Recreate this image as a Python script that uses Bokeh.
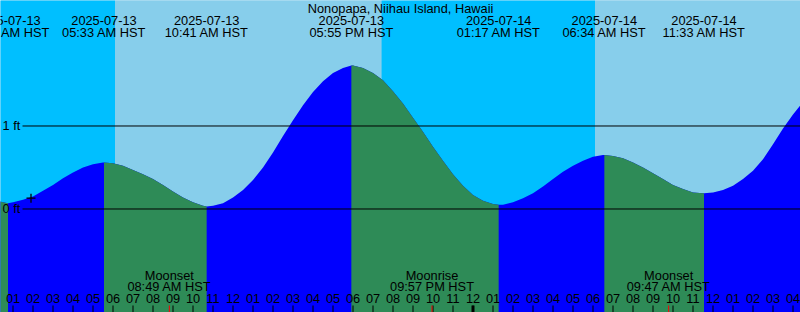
from bokeh.plotting import figure
from bokeh.models import Range1d
from bokeh.core.properties import value
from bokeh.embed import file_html
from bokeh.resources import INLINE

# ---------------- data (hours since 2025-07-13 00:00 HST) ----------------
title_text = "Nonopapa, Niihau Island, Hawaii"

tide_hours = [0.0, 0.5, 1.0, 1.5, 2.0, 2.5, 3.0, 3.5, 4.0, 4.5,
              5.0, 5.5, 6.0, 6.5, 7.0, 7.5, 8.0, 8.5, 9.0, 9.5,
              10.0, 10.5, 11.0, 11.5, 12.0, 12.5, 13.0, 13.5, 14.0, 14.5,
              15.0, 15.5, 16.0, 16.5, 17.0, 17.5, 18.0, 18.5, 19.0, 19.5,
              20.0, 20.5, 21.0, 21.5, 22.0, 22.5, 23.0, 23.5, 24.0, 24.5,
              25.0, 25.5, 26.0, 26.5, 27.0, 27.5, 28.0, 28.5, 29.0, 29.5,
              30.0, 30.5, 31.0, 31.5, 32.0, 32.5, 33.0, 33.5, 34.0, 34.5,
              35.0, 35.5, 36.0, 36.5, 37.0, 37.5, 38.0, 38.5, 39.0, 39.5,
              40.0, 40.5, 41.0]
tide_ft = [0.11, 0.08, 0.08, 0.11, 0.15, 0.22, 0.29, 0.37, 0.44, 0.50,
           0.54, 0.56, 0.55, 0.52, 0.47, 0.42, 0.36, 0.29, 0.21, 0.14,
           0.08, 0.04, 0.04, 0.07, 0.14, 0.23, 0.35, 0.50, 0.68, 0.88,
           1.07, 1.25, 1.41, 1.54, 1.64, 1.70, 1.73, 1.70, 1.64, 1.55,
           1.42, 1.27, 1.10, 0.93, 0.75, 0.58, 0.42, 0.28, 0.17, 0.10,
           0.06, 0.05, 0.08, 0.13, 0.19, 0.27, 0.36, 0.45, 0.52, 0.58,
           0.63, 0.65, 0.64, 0.61, 0.56, 0.50, 0.43, 0.36, 0.29, 0.24,
           0.20, 0.19, 0.20, 0.23, 0.28, 0.36, 0.46, 0.60, 0.78, 0.97,
           1.14, 1.29, 1.41]

extreme_hours = [0.75, 5.55, 10.683, 17.917, 25.283, 30.567, 35.55]
extreme_ft = [0.07, 0.56, 0.03, 1.73, 0.05, 0.65, 0.19]
extreme_dates = ["2025-07-13", "2025-07-13", "2025-07-13", "2025-07-13",
                 "2025-07-14", "2025-07-14", "2025-07-14"]
extreme_times = ["12:45 AM HST", "05:33 AM HST", "10:41 AM HST", "05:55 PM HST",
                 "01:17 AM HST", "06:34 AM HST", "11:33 AM HST"]

sky_left = [0.0, 6.1, 19.43, 30.1]
sky_right = [6.1, 19.43, 30.1, 41.0]
sky_colors = ["#00BFFF", "#87CEEB", "#00BFFF", "#87CEEB"]

moon_hours = [8.817, 21.95, 33.783]
moon_events = ["Moonset", "Moonrise", "Moonset"]
moon_times = ["08:49 AM HST", "09:57 PM HST", "09:47 AM HST"]

tick_hours = [1, 2, 3, 4, 5, 6, 7, 8, 9, 10, 11, 12, 13, 14, 15, 16, 17, 18, 19, 20,
              21, 22, 23, 24, 25, 26, 27, 28, 29, 30, 31, 32, 33, 34, 35, 36, 37, 38, 39, 40]
tick_labels = ["01", "02", "03", "04", "05", "06", "07", "08", "09", "10", "11", "12",
               "01", "02", "03", "04", "05", "06", "07", "08", "09", "10", "11", "12",
               "01", "02", "03", "04", "05", "06", "07", "08", "09", "10", "11", "12",
               "01", "02", "03", "04"]
midnight_hours = [24]

now_hour = [1.9]
now_ft = [0.13]

ref_levels = [0, 1]
ref_labels = ["0 ft", "1 ft"]

# ---------------- styling ----------------
BLUE = "#0000FF"
GREEN = "#2E8B57"
FONT = value("Liberation Sans")
FSIZE = value("12.8px")

p = figure(width=800, height=312, output_backend="svg", toolbar_location=None,
           x_range=Range1d(0.375, 40.375), y_range=Range1d(-1.2470, 2.5120),
           x_axis_location=None, y_axis_location=None, min_border=0)
p.extra_y_ranges = {"px": Range1d(312, 0)}
p.extra_x_ranges = {"px": Range1d(0, 800)}
p.grid.visible = False
p.outline_line_color = None
p.background_fill_color = "#87CEEB"
p.border_fill_color = "white"

# sky (night / day)
p.quad(left=sky_left, right=sky_right, bottom=-5, top=5, fill_color=sky_colors, line_color=None)

# tide fill: rising blue, falling green
pts = sorted(zip(tide_hours + extreme_hours, tide_ft + extreme_ft))
all_t = [a for a, b in pts]
all_v = [b for a, b in pts]
p.varea(x=all_t, y1=-5, y2=all_v, fill_color=BLUE)
bounds = [tide_hours[0]] + extreme_hours + [tide_hours[-1]]
for a, b in zip(bounds[:-1], bounds[1:]):
    seg = [(t, v) for t, v in pts if a <= t <= b]
    ts = [s[0] for s in seg]
    vs = [s[1] for s in seg]
    if vs[-1] < vs[0]:
        p.varea(x=ts, y1=-5, y2=vs, fill_color=GREEN)

# reference lines
p.segment(x0=[22] * len(ref_levels), x1=[800] * len(ref_levels), y0=ref_levels, y1=ref_levels,
          x_range_name="px", line_color="black", line_width=1)
p.text(x=[2] * len(ref_levels), y=ref_levels, text=ref_labels, x_range_name="px",
       text_font=FONT, text_font_size=FSIZE, text_color="black",
       text_align="left", text_baseline="middle")

# vertical offset of text baselines (px)
DY = -4

# title and tide extremes labels
p.text(x=[400], y=[12 + DY], text=[title_text], x_range_name="px", y_range_name="px",
       text_font=FONT, text_font_size=FSIZE, text_color="black",
       text_align="center", text_baseline="alphabetic")
n = len(extreme_hours)
p.text(x=extreme_hours, y=[24 + DY] * n, text=extreme_dates, y_range_name="px",
       text_font=FONT, text_font_size=FSIZE, text_color="black",
       text_align="center", text_baseline="alphabetic")
p.text(x=extreme_hours, y=[36 + DY] * n, text=extreme_times, y_range_name="px",
       text_font=FONT, text_font_size=FSIZE, text_color="black",
       text_align="center", text_baseline="alphabetic")

# moon events
m = len(moon_hours)
p.text(x=moon_hours, y=[278.5 + DY] * m, text=moon_events, y_range_name="px",
       text_font=FONT, text_font_size=FSIZE, text_color="black",
       text_align="center", text_baseline="alphabetic")
p.text(x=moon_hours, y=[290 + DY] * m, text=moon_times, y_range_name="px",
       text_font=FONT, text_font_size=FSIZE, text_color="black",
       text_align="center", text_baseline="alphabetic")

# hour ticks and labels
k = len(tick_hours)
p.text(x=tick_hours, y=[302 + DY] * k, text=tick_labels, y_range_name="px",
       text_font=FONT, text_font_size=FSIZE, text_color="black",
       text_align="center", text_baseline="alphabetic")
p.segment(x0=tick_hours, x1=tick_hours, y0=[305] * k, y1=[312] * k, y_range_name="px",
          line_color="black", line_width=1)
p.segment(x0=moon_hours, x1=moon_hours, y0=[305] * m, y1=[312] * m, y_range_name="px",
          line_color="red", line_width=1)
p.segment(x0=midnight_hours, x1=midnight_hours, y0=[305], y1=[312], y_range_name="px",
          line_color="black", line_width=3)

# current time marker
p.scatter(x=now_hour, y=now_ft, marker="cross", size=9, line_color="black", line_width=1.3)

open("out.html", "w").write(file_html(p, INLINE))
